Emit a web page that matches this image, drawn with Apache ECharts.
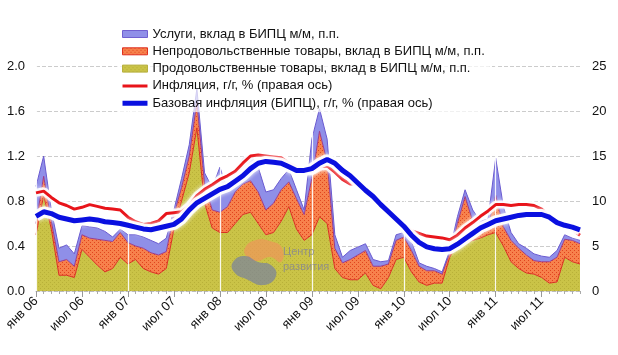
<!DOCTYPE html>
<html><head><meta charset="utf-8">
<script src="https://cdn.jsdelivr.net/npm/echarts/dist/echarts.min.js"></script>
<style>html,body{margin:0;padding:0;background:#fff}#c{width:618px;height:355px}</style>
</head><body><div id="c"></div>
<script>
const monthNames = ['янв','фев','мар','апр','май','июн','июл','авг','сен','окт','ноя','дек'];
const years = ['06','07','08','09','10','11'];
const categories = [];
years.forEach(y => monthNames.forEach(m => categories.push(m + ' ' + y)));

const food = [0.50,0.85,0.55,0.14,0.14,0.12,0.37,0.30,0.23,0.17,0.20,0.30,
  0.24,0.28,0.20,0.17,0.15,0.20,0.55,0.80,1.05,1.45,0.78,0.56,
  0.52,0.52,0.60,0.68,0.70,0.60,0.50,0.52,0.62,0.75,0.55,0.45,
  0.50,0.66,0.60,0.20,0.12,0.10,0.10,0.16,0.05,0.02,0.12,0.28,
  0.30,0.17,0.08,0.05,0.07,0.07,0.30,0.42,0.43,0.45,0.47,0.50,
  0.52,0.40,0.26,0.20,0.16,0.15,0.12,0.07,0.08,0.30,0.26,0.24];
const nonFood = [0.10,0.17,0.07,0.12,0.14,0.10,0.13,0.17,0.23,0.28,0.24,0.22,
  0.19,0.12,0.18,0.17,0.17,0.15,0.13,0.12,0.15,0.23,0.17,0.16,
  0.18,0.23,0.28,0.27,0.28,0.28,0.22,0.26,0.28,0.22,0.27,0.23,
  0.50,0.76,0.55,0.18,0.13,0.18,0.22,0.20,0.17,0.20,0.12,0.17,
  0.18,0.19,0.14,0.13,0.11,0.08,0.04,0.18,0.41,0.17,0.08,0.08,
  0.33,0.17,0.19,0.18,0.16,0.12,0.14,0.19,0.22,0.16,0.19,0.18];
const services = [0.33,0.18,0.10,0.12,0.13,0.11,0.08,0.10,0.10,0.08,0.04,0.03,
  0.07,0.10,0.10,0.11,0.10,0.12,0.04,0.08,0.10,0.12,0.10,0.20,
  0.40,0.15,0.17,0.23,0.23,0.22,0.16,0.12,0.10,0.11,0.08,0.04,
  0.35,0.20,0.20,0.12,0.05,0.08,0.07,0.06,0.06,0.04,0.03,0.05,
  0.04,0.08,0.03,0.04,0.02,0.02,0.02,0.06,0.06,0.10,0.07,0.06,
  0.33,0.18,0.07,0.04,0.06,0.06,0.05,0.04,0.06,0.04,0.02,0.03];
const inflation = [10.9,11.1,10.4,9.8,9.5,9.1,9.3,9.6,9.4,9.2,9.1,9.0,
  8.2,7.7,7.4,7.5,7.8,8.6,8.7,8.8,9.5,10.6,11.3,11.8,
  12.4,12.8,13.3,14.2,15.0,15.1,15.0,14.9,14.8,14.2,13.8,13.3,
  13.3,13.8,13.9,13.2,12.4,11.9,11.9,11.3,10.5,9.6,8.9,8.1,
  7.4,6.7,6.4,6.1,6.0,5.9,5.7,6.2,7.0,7.6,8.3,8.9,
  9.6,9.6,9.5,9.6,9.6,9.5,9.1,8.3,7.5,7.2,6.8,6.2];
const coreInflation = [8.3,8.8,8.6,8.2,8.0,7.8,7.9,8.0,7.9,7.7,7.6,7.5,
  7.3,7.1,6.9,6.8,7.0,7.2,7.4,8.0,9.0,9.8,10.3,10.8,
  11.3,11.6,12.2,12.8,13.6,14.2,14.4,14.3,14.2,13.8,13.4,13.4,
  13.6,14.2,14.6,14.2,13.4,12.8,12.0,11.2,10.5,9.6,8.8,8.0,
  7.2,6.2,5.4,4.9,4.7,4.6,4.7,5.2,5.8,6.4,7.0,7.4,
  7.8,8.0,8.2,8.4,8.5,8.5,8.5,8.2,7.6,7.3,7.1,6.8];
const leftTicks = [0, 2.0, 0.4];
const rightTicks = [0, 25, 5];
const names = {
  services: 'Услуги, вклад в БИПЦ м/м, п.п.',
  nonFood: 'Непродовольственные товары, вклад в БИПЦ м/м, п.п.',
  food: 'Продовольственные товары, вклад в БИПЦ м/м, п.п.',
  infl: 'Инфляция, г/г, % (правая ось)',
  core: 'Базовая инфляция (БИПЦ), г/г, % (правая ось)'
};

function pattern(base, dot, step) {
  const c = document.createElement('canvas');
  c.width = c.height = step * 2;
  const g = c.getContext('2d');
  g.fillStyle = base; g.fillRect(0, 0, c.width, c.height);
  g.fillStyle = dot;
  g.fillRect(0, 0, 1, 1); g.fillRect(step, step, 1, 1);
  return {image: c, repeat: 'repeat'};
}
const orangePat = pattern('#f7814c', '#e0441e', 2);
const yellowPat = pattern('#cac347', '#b8b038', 2);
const lineIcon = h => 'path://M0,0L25,0L25,0.01Z M0,' + (3.5 - h/2) + 'L25,' + (3.5 - h/2) + 'L25,' + (3.5 + h/2) + 'L0,' + (3.5 + h/2) + 'Z M0,7L25,7L25,7.01Z';

const chart = echarts.init(document.getElementById('c'), null, {renderer: 'canvas'});
const font = 'Arial, "Liberation Sans", sans-serif';
chart.setOption({
  animation: false,
  textStyle: {fontFamily: font},
  grid: {left: 36, right: 38, top: 66, bottom: 64},
  legend: {
    orient: 'vertical', left: 117, top: 25,
    padding: [2, 5], itemGap: 3.3, itemWidth: 25, itemHeight: 7,
    backgroundColor: 'rgba(255,255,255,0.7)',
    textStyle: {fontSize: 13, color: '#111', lineHeight: 14, fontFamily: font},
    data: [
      {name: names.services, icon: 'rect', itemStyle: {color: '#8f8fe8', borderColor: '#7060d0', borderWidth: 1}},
      {name: names.nonFood, icon: 'rect', itemStyle: {color: orangePat, borderColor: '#e03020', borderWidth: 1}},
      {name: names.food, icon: 'rect', itemStyle: {color: yellowPat, borderColor: '#b8b040', borderWidth: 1}},
      {name: names.infl, icon: lineIcon(3), itemStyle: {color: '#e8141a', borderWidth: 0}},
      {name: names.core, icon: lineIcon(5), itemStyle: {color: '#0a10e0', borderWidth: 0}}
    ]
  },
  xAxis: [{
    type: 'category', data: categories, boundaryGap: false,
    axisLine: {lineStyle: {color: '#bbb', type: 'dashed'}},
    axisTick: {show: true, interval: 0, length: 3, lineStyle: {color: '#aaa'}},
    axisLabel: {interval: 5, rotate: 45, fontSize: 13, color: '#111', margin: 8},
    splitLine: {show: false}
  }, {
    type: 'category', data: categories, boundaryGap: false, position: 'bottom', z: 3,
    axisLine: {show: false},
    axisTick: {show: true, interval: 5, length: 6, lineStyle: {color: '#999'}},
    axisLabel: {show: false},
    splitLine: {show: true, interval: 11, lineStyle: {color: 'rgba(255,255,255,0.9)', width: 1.2}}
  }],
  yAxis: [{
    type: 'value', min: leftTicks[0], max: leftTicks[1], interval: leftTicks[2],
    axisLine: {show: false}, axisTick: {show: false},
    axisLabel: {fontSize: 13, color: '#111', margin: 11, formatter: v => v.toFixed(1)},
    splitLine: {lineStyle: {color: '#ccc', type: 'dashed'}}
  }, {
    type: 'value', min: rightTicks[0], max: rightTicks[1], interval: rightTicks[2],
    axisLine: {show: false}, axisTick: {show: false},
    axisLabel: {fontSize: 13, color: '#111', margin: 12},
    splitLine: {show: false}
  }],
  series: [
    {name: names.food, type: 'line', stack: 'c', data: food, symbol: 'none', z: 2,
     color: '#cac347', lineStyle: {color: '#d83020', width: 1}, areaStyle: {color: yellowPat, opacity: 1}},
    {name: names.nonFood, type: 'line', stack: 'c', data: nonFood, symbol: 'none', z: 2,
     color: '#f7814c', lineStyle: {color: '#9a3a8a', width: 1}, areaStyle: {color: orangePat, opacity: 1}},
    {name: names.services, type: 'line', stack: 'c', data: services, symbol: 'none', z: 2,
     color: '#8f8fe8', lineStyle: {color: '#6a5ad0', width: 1}, areaStyle: {color: '#8f8fe8', opacity: 1}},
    {name: 'halo1', type: 'line', yAxisIndex: 1, data: inflation, symbol: 'none', z: 4, silent: true,
     lineStyle: {color: 'rgba(255,255,255,0.85)', width: 8, shadowColor: '#fff', shadowBlur: 4}},
    {name: names.infl, type: 'line', yAxisIndex: 1, data: inflation, symbol: 'none', z: 5,
     color: '#e8141a', lineStyle: {color: '#e8141a', width: 3}},
    {name: 'halo2', type: 'line', yAxisIndex: 1, data: coreInflation, symbol: 'none', z: 5, silent: true,
     lineStyle: {color: 'rgba(255,255,255,0.9)', width: 11, shadowColor: '#fff', shadowBlur: 4}},
    {name: names.core, type: 'line', yAxisIndex: 1, data: coreInflation, symbol: 'none', z: 6,
     color: '#0a10e0', lineStyle: {color: '#0a10e0', width: 5}}
  ],
  graphic: [
    {type: 'polygon', z: 10, shape: {smooth: 0.5, points: [[245,248],[256,240],[270,241],[282,248],[281,262],[270,257],[257,261],[247,257]]},
     style: {fill: 'rgba(240,150,90,0.7)'}},
    {type: 'polygon', z: 10, shape: {smooth: 0.5, points: [[233,262],[245,256],[258,262],[271,265],[276,276],[264,285],[246,279],[234,272]]},
     style: {fill: 'rgba(120,130,160,0.7)'}},
    {type: 'text', z: 10, left: 283, top: 246, style: {text: 'Центр', fill: 'rgba(140,140,140,0.9)', font: '11px ' + font}},
    {type: 'text', z: 10, left: 283, top: 261, style: {text: 'развития', fill: 'rgba(140,140,140,0.9)', font: '11px ' + font}}
  ]
});
</script></body></html>
